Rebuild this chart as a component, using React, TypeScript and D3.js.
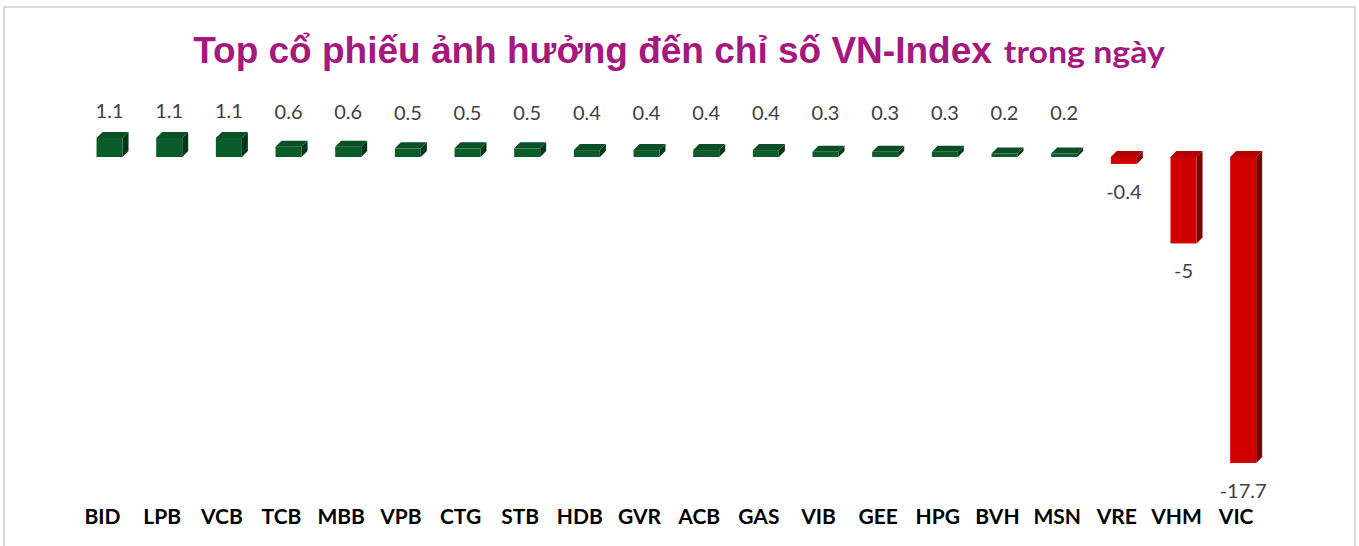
import React from 'react';
import * as d3 from 'd3';

const categories = ['BID', 'LPB', 'VCB', 'TCB', 'MBB', 'VPB', 'CTG', 'STB', 'HDB', 'GVR', 'ACB', 'GAS', 'VIB', 'GEE', 'HPG', 'BVH', 'MSN', 'VRE', 'VHM', 'VIC'];
const values = [1.1, 1.1, 1.1, 0.6, 0.6, 0.5, 0.5, 0.5, 0.4, 0.4, 0.4, 0.4, 0.3, 0.3, 0.3, 0.2, 0.2, -0.4, -5, -17.7];
const titleMain = 'Top cổ phiếu ảnh hưởng đến chỉ số VN-Index';
const titleTail = 'trong ngày';

const W = 1359;
const H = 546;
const DEPTH_X = 6;
const DEPTH_Y = 6;

const green = { front: '#0b5c2b', top: '#0a4f25', side: '#05351a' };
const red = { front: '#d00000', top: '#b00000', side: '#7c0000' };

const App = () => {
  const x = d3.scaleBand<string>()
    .domain(categories)
    .range([72.7, 1266])
    .padding(0);

  // zero line sits at y=157, VIC bottom at 463
  const y = d3.scaleLinear()
    .domain([d3.min(values) ?? -17.7, 0])
    .range([463, 157]);

  const barW = 26;
  const fmt = (v: number) => (Number.isInteger(v) ? String(v) : v.toFixed(1));

  return (
    <svg
      width={W}
      height={H}
      style={{ position: 'absolute', left: 0, top: 0, display: 'block', background: '#fff' }}
    >
      <rect x={4} y={7} width={1351} height={560} fill="#fff" stroke="#d9d9d9" strokeWidth={2} />

      <text x={679} y={63} textAnchor="middle" fill="#a5197f" fontWeight="bold">
        <tspan fontFamily="'Liberation Sans', Arial, sans-serif" fontSize={37}>{titleMain}</tspan>
        <tspan fontFamily="Lato, sans-serif" fontSize={30} dx={12} textLength={161} lengthAdjust="spacingAndGlyphs">{titleTail}</tspan>
      </text>

      {categories.map((c, i) => {
        const v = values[i];
        const cx = (x(c) ?? 0) + x.bandwidth() / 2 + 7;
        const x0 = cx - barW / 2;
        const x1 = cx + barW / 2;
        const yTop = Math.min(y(v), y(0));
        const yBot = Math.max(y(v), y(0));
        const col = v >= 0 ? green : red;
        const topFace = `M${x0},${yTop} L${x0 + DEPTH_X},${yTop - DEPTH_Y} L${x1 + DEPTH_X},${yTop - DEPTH_Y} L${x1},${yTop} Z`;
        const sideFace = `M${x1},${yTop} L${x1 + DEPTH_X},${yTop - DEPTH_Y} L${x1 + DEPTH_X},${yBot - DEPTH_Y} L${x1},${yBot} Z`;
        const labelY = v >= 0 ? y(0) - 36 - v * 3 : yBot + 35;
        return (
          <g key={c}>
            <path d={sideFace} fill={col.side} />
            <path d={topFace} fill={col.top} />
            <rect x={x0} y={yTop} width={barW} height={yBot - yTop} fill={col.front} />
            <text
              x={cx}
              y={labelY}
              textAnchor="middle"
              fontFamily="Lato, sans-serif"
              fontSize={20}
              fill="#404040"
            >
              {fmt(v)}
            </text>
            <text
              x={(x(c) ?? 0) + x.bandwidth() / 2}
              y={524}
              textAnchor="middle"
              fontFamily="Lato, sans-serif"
              fontWeight="bold"
              fontSize={21}
              fill="#000"
            >
              {c}
            </text>
          </g>
        );
      })}
    </svg>
  );
};

export default App;
